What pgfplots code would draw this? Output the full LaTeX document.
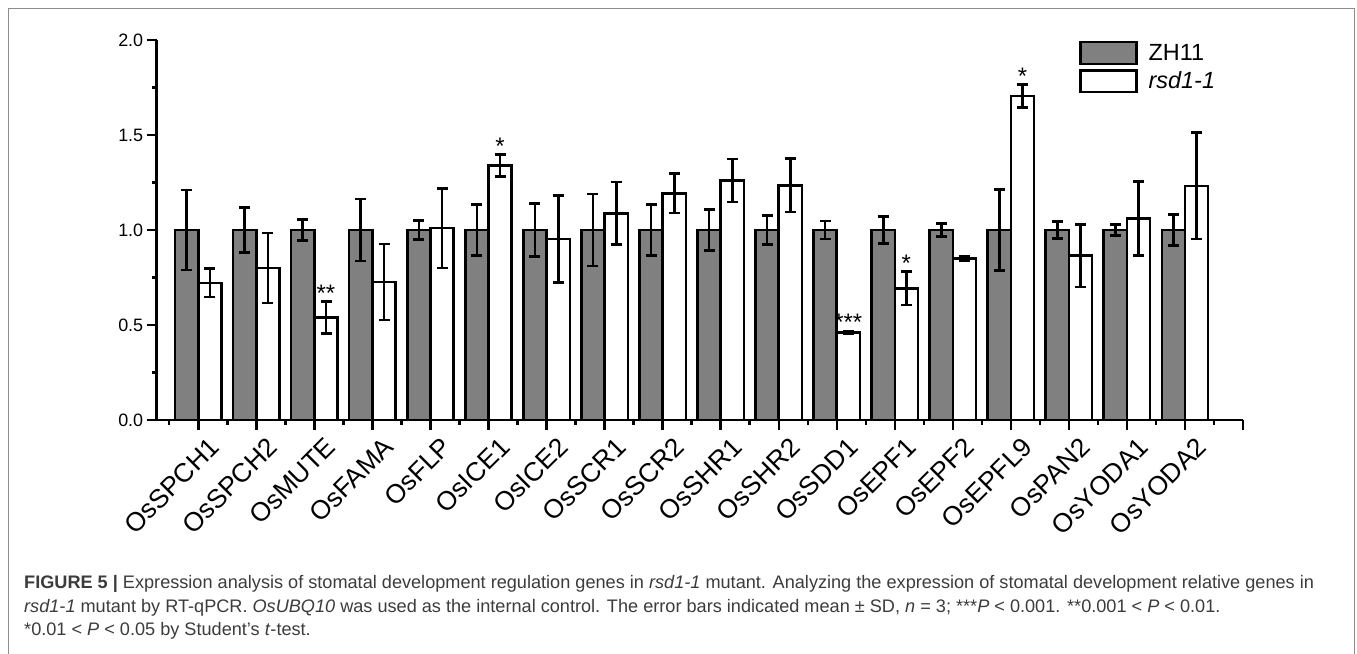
\documentclass[border=0pt]{standalone}
\usepackage{pgfplots}
\pgfplotsset{compat=1.18}
\usepackage{pgfplotstable}
\usepackage{fontspec}
\setmainfont{Liberation Sans}
\definecolor{barg}{RGB}{128,128,128}
\definecolor{capt}{RGB}{60,60,60}
\definecolor{framec}{RGB}{140,140,140}

\pgfplotstableread{
xl   zh   zhe    xr   rsd    rsde
-0.2 1.0  0.210  0.2  0.722  0.075
0.8  1.0  0.120  1.2  0.800  0.184
1.8  1.0  0.056  2.2  0.540  0.083
2.8  1.0  0.163  3.2  0.726  0.200
3.8  1.0  0.050  4.2  1.010  0.210
4.8  1.0  0.135  5.2  1.340  0.058
5.8  1.0  0.138  6.2  0.953  0.228
6.8  1.0  0.190  7.2  1.088  0.165
7.8  1.0  0.133  8.2  1.193  0.103
8.8  1.0  0.109  9.2  1.261  0.113
9.8  1.0  0.078  10.2 1.235  0.141
10.8 1.0  0.047  11.2 0.461  0.008
11.8 1.0  0.070  12.2 0.693  0.087
12.8 1.0  0.033  13.2 0.850  0.012
13.8 1.0  0.214  14.2 1.705  0.060
14.8 1.0  0.044  15.2 0.865  0.165
15.8 1.0  0.028  16.2 1.060  0.195
16.8 1.0  0.080  17.2 1.232  0.280
}\datatable

\pgfplotstableread{
x    y      lab
2.2  0.623  **
5.2  1.398  *
11.2 0.469  ***
12.2 0.780  *
14.2 1.765  *
}\startable

\begin{document}
\begin{tikzpicture}[x=1bp,y=1bp]
\useasboundingbox (0,0) rectangle (1357,654);
\fill[white] (0,0) rectangle (1357,654);
\draw[framec, line width=1.3bp] (8.5,0) -- (8.5,645.5) -- (1354.5,645.5) -- (1354.5,0);
\begin{axis}[
  at={(156.7bp,234bp)}, anchor=south west,
  scale only axis, width=1086.3bp, height=380bp,
  xmin=-0.717, xmax=18, ymin=0, ymax=2,
  clip=false,
  axis lines=left,
  axis line style={-, line width=2.6bp, black},
  tick align=outside,
  major tick length=10bp, minor tick length=5bp,
  every tick/.style={line width=2.4bp, black},
  xtick={0,1,...,18},
  minor xtick={-0.5,0.5,...,17.5},
  xticklabels={OsSPCH1,OsSPCH2,OsMUTE,OsFAMA,OsFLP,OsICE1,OsICE2,OsSCR1,OsSCR2,OsSHR1,OsSHR2,OsSDD1,OsEPF1,OsEPF2,OsEPFL9,OsPAN2,OsYODA1,OsYODA2,{}},
  xticklabel style={font=\fontsize{26.5}{26.5}\selectfont, xshift=19bp, yshift=-10bp, rotate=45, anchor=east},
  ytick={0,0.5,...,2},
  minor ytick={0.25,0.75,1.25,1.75},
  yticklabel style={font=\fontsize{18}{18}\selectfont, /pgf/number format/.cd, fixed, fixed zerofill, precision=1},
  /pgf/number format/assume math mode=true,
  legend style={at={(0.849,0.998)}, anchor=north west, draw=none, fill=none,
    font=\fontsize{23.5}{26}\selectfont, row sep=4bp, column sep=9bp, inner sep=0pt,
    nodes={inner sep=2bp}},
  legend cell align=left,
  legend image code/.code={\draw[#1] (0bp,-10.8bp) rectangle (56bp,10.8bp);},
]
\addplot[ybar, bar width=0.4, bar shift=0, fill=barg, draw=black, line width=2.5bp,
  error bars/.cd, y dir=both, y explicit,
  error bar style={line width=2.7bp, black},
  error mark options={rotate=90, line width=2.7bp, black, mark size=5.5bp}]
  table[x=xl, y=zh, y error=zhe] {\datatable};
\addlegendentry{ZH11}
\addplot[ybar, bar width=0.4, bar shift=0, fill=white, draw=black, line width=2.5bp,
  error bars/.cd, y dir=both, y explicit,
  error bar style={line width=2.7bp, black},
  error mark options={rotate=90, line width=2.7bp, black, mark size=5.5bp}]
  table[x=xr, y=rsd, y error=rsde] {\datatable};
\addlegendentry{\textit{rsd1-1}}
\addplot[draw=none, mark=none, forget plot, nodes near coords, point meta=explicit symbolic,
  nodes near coords style={anchor=south, font=\fontsize{24}{24}\selectfont, inner sep=0pt, yshift=0bp}]
  table[x=x, y=y, meta=lab] {\startable};
\end{axis}
\begin{scope}[every node/.style={anchor=base west, inner sep=0pt, text=capt, font=\fontsize{18.2}{20}\selectfont}]
\node at (24,65) {\textbf{FIGURE 5 |} Expression analysis of stomatal development regulation genes in \textit{rsd1-1} mutant. Analyzing the expression of stomatal development relative genes in};
\node at (24,41) {\textit{rsd1-1} mutant by RT-qPCR. \textit{OsUBQ10} was used as the internal control. The error bars indicated mean ± SD, \textit{n} = 3; ***\textit{P} < 0.001. **0.001 < \textit{P} < 0.01.};
\node at (24,18) {*0.01 < \textit{P} < 0.05 by Student’s \textit{t}-test.};
\end{scope}
\end{tikzpicture}
\end{document}
